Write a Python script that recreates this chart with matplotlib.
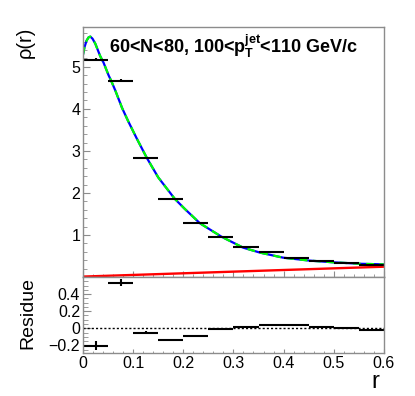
import numpy as np
import matplotlib.pyplot as plt
from matplotlib.ticker import MultipleLocator

plt.rcParams['font.family'] = ['Liberation Sans', 'DejaVu Sans']
plt.rcParams['mathtext.fontset'] = 'custom'
plt.rcParams['mathtext.rm'] = 'Liberation Sans'
plt.rcParams['mathtext.bf'] = 'Liberation Sans:bold'
plt.rcParams['mathtext.it'] = 'Liberation Sans:italic'

# binned data: bin centres, half widths, rho(r) and errors
r_bins = np.array([0.025, 0.075, 0.125, 0.175, 0.225, 0.275, 0.325, 0.375, 0.425, 0.475, 0.525, 0.575])
r_half = np.full(12, 0.025)
rho = np.array([5.17, 4.67, 2.82, 1.86, 1.28, 0.96, 0.71, 0.59, 0.46, 0.38, 0.33, 0.29])
rho_err = np.array([0.03, 0.03, 0.02, 0.015, 0.01, 0.01, 0.01, 0.01, 0.008, 0.008, 0.008, 0.008])

# residues
residue = np.array([-0.205, 0.535, -0.05, -0.14, -0.09, -0.01, 0.02, 0.04, 0.035, 0.02, 0.0, -0.02])
residue_err = np.array([0.05, 0.04, 0.015, 0.015, 0.012, 0.01, 0.01, 0.01, 0.01, 0.01, 0.01, 0.01])

# fit curve
r_fit = [0, 0.003, 0.007, 0.011, 0.0146, 0.019, 0.0246, 0.0345, 0.041, 0.051, 0.0565,
         0.064, 0.078, 0.09, 0.107, 0.127, 0.15, 0.183, 0.203, 0.233, 0.276, 0.319,
         0.353, 0.399, 0.452, 0.499, 0.552, 0.6]
rho_fit = [5.29, 5.47, 5.62, 5.70, 5.72, 5.67, 5.55, 5.25, 5.10, 4.80, 4.66,
           4.45, 4.02, 3.71, 3.30, 2.84, 2.37, 1.86, 1.62, 1.28, 0.96, 0.70,
           0.58, 0.46, 0.39, 0.35, 0.315, 0.30]

# background line
r_bkg = [0.0, 0.6]
rho_bkg = [0.01, 0.245]

fig = plt.figure(figsize=(4.15, 3.96), dpi=100)
ax1 = fig.add_axes([0.2, 0.3005, 0.725, 0.6315])
ax2 = fig.add_axes([0.2, 0.1086, 0.725, 0.1919], sharex=ax1)

frame_col = '#8c8c8c'
for ax in (ax1, ax2):
    for s in ax.spines.values():
        s.set_color(frame_col)
        s.set_linewidth(1.0)
    ax.tick_params(which='both', direction='in', color=frame_col, top=False, right=False,
                   labelsize=11.5, pad=2)

# top panel
ax1.plot(r_bkg, rho_bkg, color='red', lw=1.7)
ax1.plot(r_fit, rho_fit, color='blue', lw=1.6)
ax1.plot(r_fit, rho_fit, color='#00ff00', lw=1.6, dashes=(3.5, 2.5))
ax1.errorbar(r_bins, rho, xerr=r_half, yerr=rho_err, fmt='none', ecolor='black', elinewidth=1.5)
ax1.set_xlim(0, 0.6)
ax1.set_ylim(0, 5.95)
ax1.set_yticks([1, 2, 3, 4, 5])
ax1.yaxis.set_minor_locator(MultipleLocator(0.2))
ax1.xaxis.set_major_locator(MultipleLocator(0.1))
ax1.xaxis.set_minor_locator(MultipleLocator(0.02))
ax1.tick_params(axis='y', which='major', length=5)
ax1.tick_params(axis='y', which='minor', length=2.8)
ax1.tick_params(axis='x', which='major', length=4)
ax1.tick_params(axis='x', which='minor', length=2)
ax1.tick_params(axis='x', labelbottom=False)
ax1.set_ylabel(r'ρ(r)', fontsize=14.5, loc='top')
ax1.yaxis.set_label_coords(-0.16, 1.0)
ax1.text(0.086, 0.896, r'60<N<80, 100<$\mathbf{p}_\mathbf{T}^\mathbf{jet}$<110 GeV/c',
         transform=ax1.transAxes, fontsize=13, fontweight='bold', va='baseline', ha='left')

# residue panel
ax2.axhline(0, color='black', lw=1, ls=(0, (1.5, 1.5)))
ax2.errorbar(r_bins, residue, xerr=r_half, yerr=residue_err, fmt='none', ecolor='black', elinewidth=1.5)
ax2.set_ylim(-0.29, 0.6)
ax2.set_yticks([-0.2, 0, 0.2, 0.4])
ax2.set_yticklabels(['\u22120.2', '0', '0.2', '0.4'])
ax2.yaxis.set_minor_locator(MultipleLocator(0.05))
ax2.set_xticks([0, 0.1, 0.2, 0.3, 0.4, 0.5, 0.6])
ax2.set_xticklabels(['0', '0.1', '0.2', '0.3', '0.4', '0.5', '0.6'])
ax2.tick_params(axis='y', which='major', length=6)
ax2.tick_params(axis='y', which='minor', length=3.5)
ax2.tick_params(axis='x', which='major', length=3)
ax2.tick_params(axis='x', which='minor', length=1.5)
ax2.set_ylabel('Residue', fontsize=14, loc='top')
ax2.yaxis.set_label_coords(-0.155, 1.0)
ax2.set_xlabel('r', fontsize=17, loc='right')
ax2.xaxis.set_label_coords(0.985, -0.24)

fig.savefig('out.png', dpi=100)
